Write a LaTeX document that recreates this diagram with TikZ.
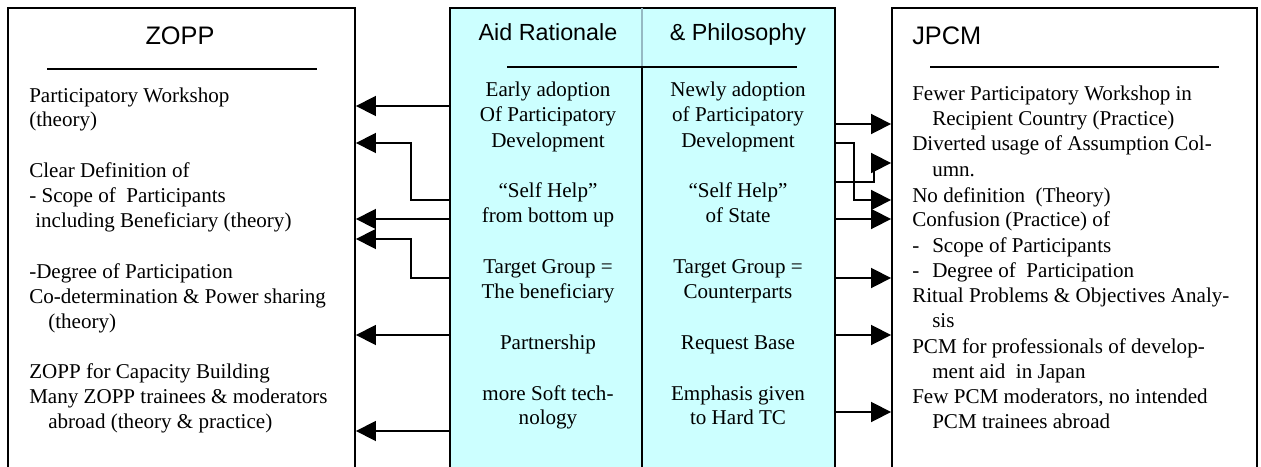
\documentclass[tikz,border=0pt]{standalone}
\usepackage{fontspec}
\setmainfont{Liberation Serif}
\newfontfamily\timesf{Liberation Serif}
\newfontfamily\arialf{Liberation Sans}
\usetikzlibrary{arrows.meta,fit}
\definecolor{midcyan}{RGB}{204,255,255}
\definecolor{divlight}{RGB}{150,185,195}
\begin{document}
\begin{tikzpicture}[x=0.75pt,y=-0.75pt,
  box/.style={draw=black, line width=1.4pt, inner sep=0pt},
  rule/.style={line width=1.2pt},
  arr/.style={line width=1.3pt, -{Triangle[length=15pt,width=15pt]}},
  txt/.style={inner sep=0pt, font=\timesf\fontsize{15.8}{18}\selectfont},
  ttl/.style={inner sep=0pt, font=\arialf\fontsize{19}{22}\selectfont},
  mttl/.style={inner sep=0pt, font=\arialf\fontsize{17.5}{21}\selectfont}]
\useasboundingbox (0,0) rectangle (1261,467);
\clip (0,0) rectangle (1261,467);
% boxes
\node[box, fit={(8,8) (355,490)}] (zopp) {};
\node[box, fill=midcyan, fit={(450,8) (835,490)}] (mid) {};
\node[box, fit={(892,8) (1257,490)}] (jpcm) {};
% middle divider
\coordinate (dtop) at (642,8);
\coordinate (dmid) at (642,67);
\coordinate (dbot) at (642,490);
\draw[divlight, line width=0.9pt] (dtop) -- (dmid);
\draw[rule] (dmid) -- (dbot);
% title rules
\coordinate (zr1) at (47,69);  \coordinate (zr2) at (317,69);
\coordinate (mr1) at (507,67); \coordinate (mr2) at (797,67);
\coordinate (jr1) at (930,67); \coordinate (jr2) at (1219,67);
\draw[rule] (zr1) -- (zr2);
\draw[rule] (mr1) -- (mr2);
\draw[rule] (jr1) -- (jr2);
% titles
\node[ttl, anchor=base] (tzopp) at (180,45) {ZOPP};
\node[ttl, anchor=base west] (tjpcm) at (912,45) {JPCM};
\node[mttl, anchor=base] (taid) at (548,41) {Aid Rationale};
\node[mttl, anchor=base] (tphil) at (738,41) {\& Philosophy};
% left texts
\foreach \x/\y/\t [count=\i] in {
  29/103/{Participatory Workshop},
  29/127/{(theory)},
  29/177/{Clear Definition of},
  29/202/{- Scope of\ \ Participants},
  35/227/{including Beneficiary (theory)},
  29/278/{-Degree of Participation},
  29/303/{Co-determination \& Power sharing},
  48/328/{(theory)},
  29/378/{ZOPP for Capacity Building},
  29/403/{Many ZOPP trainees \& moderators},
  48/428/{abroad (theory \& practice)}}
  \node[txt, anchor=base west] (zl\i) at (\x,\y) {\t};
% middle left column
\foreach \y/\t [count=\i] in {
  97/{Early adoption},
  122/{Of Participatory},
  147/{Development},
  197/{“Self Help”},
  222/{from bottom up},
  273/{Target Group =},
  298/{The beneficiary},
  349/{Partnership},
  400/{more Soft tech-},
  424/{nology}}
  \node[txt, anchor=base] (ml\i) at (548,\y) {\t};
% middle right column
\foreach \y/\t [count=\i] in {
  97/{Newly adoption},
  122/{of Participatory},
  147/{Development},
  197/{“Self Help”},
  222/{of State},
  273/{Target Group =},
  298/{Counterparts},
  349/{Request Base},
  400/{Emphasis given},
  424/{to Hard TC}}
  \node[txt, anchor=base] (mr\i) at (738,\y) {\t};
% right texts
\foreach \x/\y/\t [count=\i] in {
  912/101/{Fewer Participatory Workshop in},
  932/126/{Recipient Country (Practice)},
  912/151/{Diverted usage of Assumption Col-},
  932/176/{umn.},
  912/202/{No definition\ \ (Theory)},
  912/226/{Confusion (Practice) of},
  912/252/{\makebox[15pt][l]{-}Scope of Participants},
  912/277/{\makebox[15pt][l]{-}Degree of\ \ Participation},
  912/302/{Ritual Problems \& Objectives Analy-},
  932/327/{sis},
  912/353/{PCM for professionals of develop-},
  932/378/{ment aid\ \ in Japan},
  912/403/{Few PCM moderators, no intended},
  932/428/{PCM trainees abroad}}
  \node[txt, anchor=base west] (rl\i) at (\x,\y) {\t};
% arrows to ZOPP
\draw[arr] (mid.west |- 0,106) -- (zopp.east |- 0,106);
\draw[arr] (mid.west |- 0,200) -- ++(-38,0) |- (zopp.east |- 0,143);
\draw[arr] (mid.west |- 0,219) -- (zopp.east |- 0,219);
\draw[arr] (mid.west |- 0,278) -- ++(-38,0) |- (zopp.east |- 0,239);
\draw[arr] (mid.west |- 0,335) -- (zopp.east |- 0,335);
\draw[arr] (mid.west |- 0,431) -- (zopp.east |- 0,431);
% arrows to JPCM
\draw[arr] (mid.east |- 0,124) -- (jpcm.west |- 0,124);
\draw[arr] (mid.east |- 0,182) -- ++(38,0) |- (jpcm.west |- 0,163);
\draw[arr] (mid.east |- 0,143) -- ++(18,0) |- (jpcm.west |- 0,200);
\draw[arr] (mid.east |- 0,219) -- (jpcm.west |- 0,219);
\draw[arr] (mid.east |- 0,278) -- (jpcm.west |- 0,278);
\draw[arr] (mid.east |- 0,335) -- (jpcm.west |- 0,335);
\draw[arr] (mid.east |- 0,412) -- (jpcm.west |- 0,412);
\end{tikzpicture}
\end{document}
